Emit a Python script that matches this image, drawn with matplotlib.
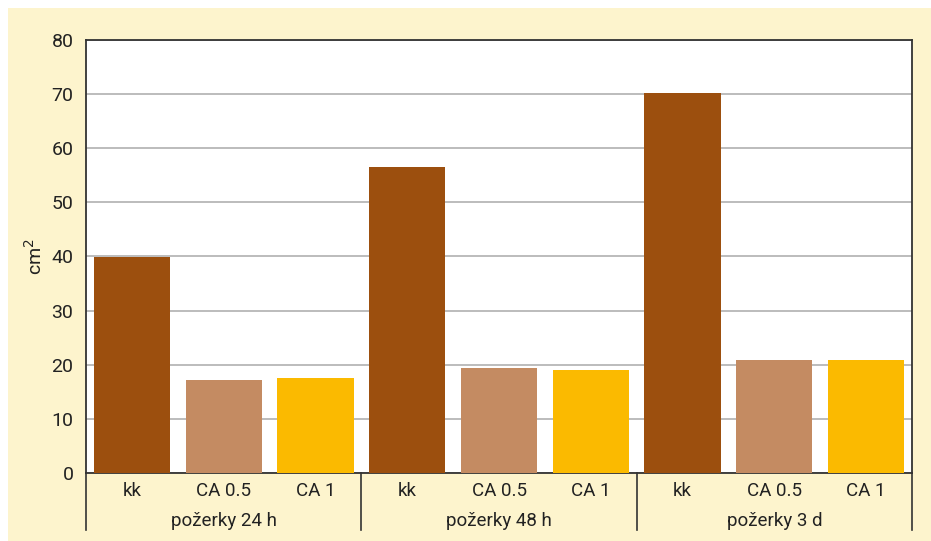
import matplotlib
matplotlib.use("Agg")
import matplotlib.pyplot as plt
from matplotlib.patches import Rectangle
from matplotlib.transforms import blended_transform_factory
import numpy as np

plt.rcParams['font.family'] = ['Roboto', 'DejaVu Sans']

groups = ["požerky 24 h", "požerky 48 h", "požerky 3 d"]
treatments = ["kk", "CA 0.5", "CA 1"]
values = {
    "kk": [39.9, 56.5, 70.2],
    "CA 0.5": [17.2, 19.4, 20.9],
    "CA 1": [17.5, 19.0, 20.9],
}
colors = {"kk": "#9C4F0E", "CA 0.5": "#C48B62", "CA 1": "#FBBA00"}
yticks = [0, 10, 20, 30, 40, 50, 60, 70, 80]

W, H = 931, 541
fig = plt.figure(figsize=(W / 100, H / 100), dpi=100)
fig.patch.set_facecolor("white")
bg = Rectangle((8 / W, 0), 1 - 8 / W, (H - 8) / H, transform=fig.transFigure,
               facecolor="#FDF4CD", edgecolor="none", zorder=-10)
fig.patches.append(bg)

ax = fig.add_axes([86 / W, (H - 473) / H, (912 - 86) / W, (473 - 40) / H])
ax.set_zorder(1)
ax.set_facecolor("white")

n_t = len(treatments)
n_g = len(groups)
for gi in range(n_g):
    for ti, t in enumerate(treatments):
        x = gi * n_t + ti
        ax.bar(x, values[t][gi], width=0.83, color=colors[t], zorder=3)

ax.set_xlim(-0.5, n_g * n_t - 0.5)
ax.set_ylim(0, 80)
ax.set_yticks(yticks)
ax.set_yticklabels([str(v) for v in yticks], fontsize=14, color="#222222")
ax.tick_params(axis="y", length=0, pad=9)
ax.set_xticks([])
ax.grid(axis="y", color="#b0b0b0", linewidth=1.2, zorder=1)
for s in ax.spines.values():
    s.set_color("#333333")
    s.set_linewidth(1.3)

ax.set_ylabel("cm$^2$", fontsize=14, color="#222222", labelpad=4)

tr = blended_transform_factory(ax.transData, ax.transAxes)
for gi in range(n_g):
    for ti, t in enumerate(treatments):
        x = gi * n_t + ti
        ax.text(x, -0.042, t, transform=tr, ha="center", va="center", fontsize=13.5, color="#222222")
    ax.text(gi * n_t + 1, -0.111, groups[gi], transform=tr, ha="center", va="center",
            fontsize=13.5, color="#222222")
for b in range(n_g + 1):
    xb = b * n_t - 0.5
    ax.plot([xb, xb], [0, -0.132], transform=tr, color="#333333", linewidth=1.2, clip_on=False)

fig.savefig("out.png", dpi=100)
